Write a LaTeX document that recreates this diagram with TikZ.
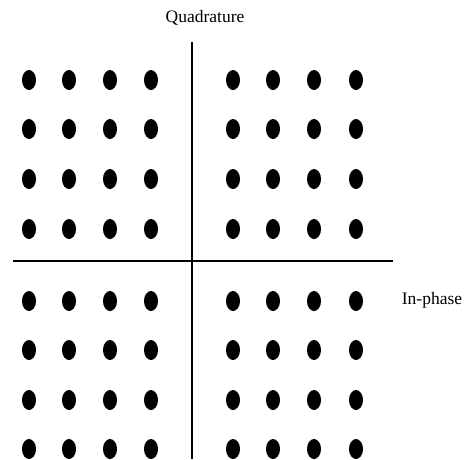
\documentclass[tikz,border=0pt]{standalone}
\usepackage{fontspec}
\setmainfont{Liberation Serif}
\usetikzlibrary{shapes.geometric}

\begin{document}
\begin{tikzpicture}[x=1pt, y=-1pt,
  sym/.style={ellipse, fill=black, inner sep=0pt, minimum width=14pt, minimum height=20pt},
  axis/.style={line width=1.6pt},
  lbl/.style={font=\fontsize{17.5}{20}\selectfont}]
\useasboundingbox (0, 0) rectangle (469, 459);
% axes
\coordinate (qtop) at (192, 42);
\coordinate (qbot) at (192, 459);
\coordinate (ileft) at (13, 261);
\coordinate (iright) at (393, 261);
\draw[axis] (qtop) -- (qbot);
\draw[axis] (ileft) -- (iright);
% constellation points
\foreach \x/\i in {29/1, 69/2, 110/3, 151/4, 233/5, 273/6, 314/7, 356/8}
  \foreach \y/\j in {80/1, 129/2, 179/3, 229/4, 301/5, 350/6, 400/7, 449/8}
    \node[sym] (s\i\j) at (\x, \y) {};
\node[lbl] (quad) at (205, 18) {Quadrature};
\node[lbl] (inph) at (432, 300) {In-phase};
\end{tikzpicture}
\end{document}
